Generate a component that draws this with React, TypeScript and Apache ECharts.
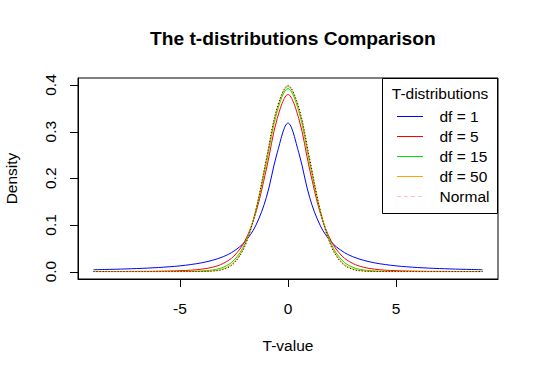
import React, { useEffect, useRef } from "react";
import * as echarts from "echarts";

const xValues = [-9, -8.5, -8, -7.5, -7, -6.5, -6, -5.5, -5, -4.5, -4, -3.5, -3, -2.5, -2, -1.5, -1, -0.5, 0, 0.5, 1, 1.5, 2, 2.5, 3, 3.5, 4, 4.5, 5, 5.5, 6, 6.5, 7, 7.5, 8, 8.5, 9];

const df1 = [0.0039, 0.0044, 0.0049, 0.0056, 0.0064, 0.0074, 0.0086, 0.0102, 0.0122, 0.015, 0.0187, 0.0241, 0.0318, 0.0439, 0.0637, 0.0979, 0.1592, 0.2546, 0.3183, 0.2546, 0.1592, 0.0979, 0.0637, 0.0439, 0.0318, 0.0241, 0.0187, 0.015, 0.0122, 0.0102, 0.0086, 0.0074, 0.0064, 0.0056, 0.0049, 0.0044, 0.0039];
const df5 = [0.0001, 0.0001, 0.0001, 0.0002, 0.0003, 0.0004, 0.0007, 0.0011, 0.0018, 0.0029, 0.0051, 0.0092, 0.0173, 0.0333, 0.0651, 0.1245, 0.2197, 0.3279, 0.3796, 0.3279, 0.2197, 0.1245, 0.0651, 0.0333, 0.0173, 0.0092, 0.0051, 0.0029, 0.0018, 0.0011, 0.0007, 0.0004, 0.0003, 0.0002, 0.0001, 0.0001, 0.0001];
const df15 = [0, 0, 0, 0, 0, 0, 0, 0.0001, 0.0002, 0.0004, 0.0012, 0.0033, 0.0091, 0.0242, 0.0592, 0.1283, 0.2341, 0.3438, 0.3924, 0.3438, 0.2341, 0.1283, 0.0592, 0.0242, 0.0091, 0.0033, 0.0012, 0.0004, 0.0002, 0.0001, 0, 0, 0, 0, 0, 0, 0];
const df50 = [0, 0, 0, 0, 0, 0, 0, 0, 0, 0.0001, 0.0003, 0.0015, 0.0058, 0.0197, 0.0558, 0.1292, 0.2396, 0.3495, 0.3969, 0.3495, 0.2396, 0.1292, 0.0558, 0.0197, 0.0058, 0.0015, 0.0003, 0.0001, 0, 0, 0, 0, 0, 0, 0, 0, 0];
const normal = [0, 0, 0, 0, 0, 0, 0, 0, 0, 0, 0.0001, 0.0009, 0.0044, 0.0175, 0.054, 0.1295, 0.242, 0.3521, 0.3989, 0.3521, 0.242, 0.1295, 0.054, 0.0175, 0.0044, 0.0009, 0.0001, 0, 0, 0, 0, 0, 0, 0, 0, 0, 0];

const xTicks = [-5, 0, 5];
const yTicks = [0, 0.1, 0.2, 0.3, 0.4];
const X_MIN = -9.72;
const X_MAX = 9.72;
const Y_MIN = -0.016;
const Y_MAX = 0.415;

const legendNames = ["df = 1", "df = 5", "df = 15", "df = 50", "Normal"];
const legendColors = ["#0000FF", "#FF0000", "#00DD00", "#FFA500", "#FFC0CB"];

const FONT = "'Liberation Sans', Arial, sans-serif";

export default function App() {
  const ref = useRef<HTMLDivElement>(null);
  useEffect(() => {
    if (!ref.current) return;
    const chart = echarts.init(ref.current, undefined, { renderer: "svg" });
    const pairs = (ys: number[]) => xValues.map((x, i) => [x, ys[i]]);
    const mk = (name: string, ys: number[], color: string, type: any = "solid") => ({
      name,
      type: "line",
      data: pairs(ys),
      showSymbol: false,
      smooth: 0.35,
      lineStyle: { color, width: 1, type },
      itemStyle: { color },
      silent: true,
    });
    const legendGraphics: any[] = [
      { type: "rect", shape: { x: 382.5, y: 78.5, width: 115, height: 135 }, style: { fill: "#fff", stroke: "#000", lineWidth: 1 }, z: 100 },
      { type: "text", x: 440, y: 93, style: { text: "T-distributions", fill: "#000", font: `15.5px ${FONT}`, textAlign: "center", textVerticalAlign: "middle" }, z: 101 },
    ];
    const rowY = [116.5, 136.5, 156.5, 176.5, 196.5];
    legendNames.forEach((n, i) => {
      legendGraphics.push({
        type: "line",
        shape: { x1: 397, y1: rowY[i], x2: 423, y2: rowY[i] },
        style: { stroke: legendColors[i], lineWidth: 1, lineDash: i === 4 ? [4, 3] : null },
        z: 101,
      });
      legendGraphics.push({
        type: "text",
        x: 439.5,
        y: rowY[i],
        style: { text: n, fill: "#000", font: `15.5px ${FONT}`, textAlign: "left", textVerticalAlign: "middle" },
        z: 101,
      });
    });
    chart.setOption({
      animation: false,
      backgroundColor: "#fff",
      title: {
        text: "The t-distributions Comparison",
        left: 145,
        top: 24,
        textStyle: { fontFamily: FONT, fontSize: 19.2, fontWeight: "bold", color: "#000" },
      },
      grid: {
        left: 78, right: 40, top: 78, bottom: 98,
        outerBoundsMode: "none",
        show: true, borderColor: "#000", borderWidth: 1, backgroundColor: "transparent",
      },
      xAxis: {
        type: "value",
        min: X_MIN,
        max: X_MAX,
        name: "T-value",
        nameLocation: "middle",
        nameGap: 58,
        nameTextStyle: { fontFamily: FONT, fontSize: 15.5, color: "#000" },
        axisLine: { show: true, onZero: false, lineStyle: { color: "#000", width: 1 } },
        axisTick: { show: false },
        axisLabel: { fontFamily: FONT, fontSize: 15.5, color: "#000", margin: 21, customValues: xTicks },
        splitLine: { show: false },
      },
      yAxis: {
        type: "value",
        min: Y_MIN,
        max: Y_MAX,
        name: "Density",
        nameLocation: "middle",
        nameGap: 59,
        nameRotate: 90,
        nameTextStyle: { fontFamily: FONT, fontSize: 15.5, color: "#000" },
        axisLine: { show: true, onZero: false, lineStyle: { color: "#000", width: 1 } },
        axisTick: { show: false },
        axisLabel: { fontFamily: FONT, fontSize: 15.5, color: "#000", margin: 20, rotate: 90, customValues: yTicks, formatter: (v: number) => v.toFixed(1) },
        splitLine: { show: false },
      },
      series: [
        mk("df = 1", df1, "#0000FF"),
        mk("df = 5", df5, "#FF0000"),
        mk("df = 15", df15, "#00DD00"),
        mk("df = 50", df50, "#FFA500"),
        mk("Normal", normal, "#000000", [1, 2]),
      ],
    });
    // axis ticks, positioned through the chart's own scales
    const TICK = 8;
    const tickGraphics: any[] = [];
    xTicks.forEach((v) => {
      const p = chart.convertToPixel({ gridIndex: 0 }, [v, Y_MIN]) as number[];
      if (!p) return;
      const x = Math.round(p[0]) + 0.5;
      tickGraphics.push({ type: "line", shape: { x1: x, y1: p[1], x2: x, y2: p[1] + TICK }, style: { stroke: "#000", lineWidth: 1 }, z: 50 });
    });
    yTicks.forEach((v) => {
      const p = chart.convertToPixel({ gridIndex: 0 }, [X_MIN, v]) as number[];
      if (!p) return;
      const y = Math.round(p[1]) + 0.5;
      tickGraphics.push({ type: "line", shape: { x1: p[0] - TICK, y1: y, x2: p[0], y2: y }, style: { stroke: "#000", lineWidth: 1 }, z: 50 });
    });
    chart.setOption({ graphic: [...legendGraphics, ...tickGraphics] });
    return () => chart.dispose();
  }, []);
  return <div ref={ref} style={{ position: "fixed", left: 0, top: 0, width: 538, height: 377 }} />;
}
